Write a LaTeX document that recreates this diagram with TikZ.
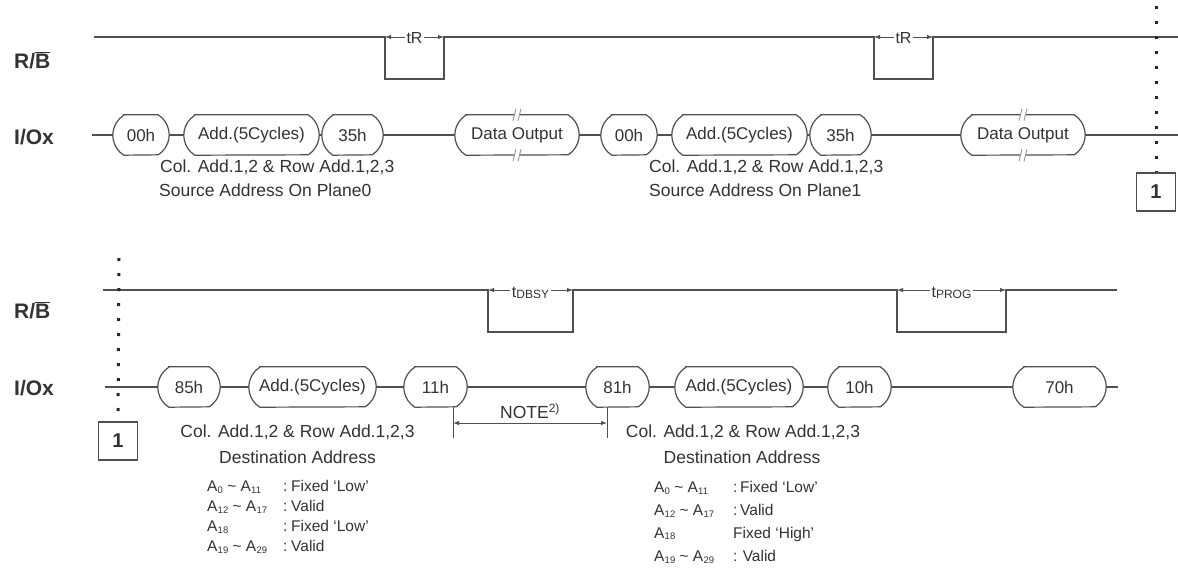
\documentclass[tikz,border=0pt]{standalone}
\usepackage{fontspec}
\setmainfont{Liberation Sans}
\usetikzlibrary{arrows.meta,calc}
\definecolor{lc}{HTML}{505050}
\definecolor{tc}{HTML}{333333}
\newcommand\As[1]{A\kern0.2pt\raisebox{-1.5pt}{\fontsize{9.5}{10}\selectfont #1}}
\newcommand\tsub[2]{#1\raisebox{-0.5pt}{\fontsize{12}{12}\selectfont #2}}
\newcommand\pillo[1]{\draw[ln] ($(#1.north west)+(11,0)$) -- ($(#1.north east)+(-11,0)$)
   arc[start angle=-57.6,end angle=57.6,radius=23.7] -- ($(#1.south west)+(11,0)$)
   arc[start angle=122.4,end angle=237.6,radius=23.7] -- cycle;}
\begin{document}
\begin{tikzpicture}[x=1pt,y=-1pt,
  ln/.style={draw=lc, line width=1.2pt},
  pill/.style={rectangle, draw=none, minimum height=40pt, inner sep=0pt,
     font=\fontsize{17}{20}\selectfont, text=tc},
  lbl/.style={anchor=west, inner sep=0pt, font=\bfseries\fontsize{21}{24}\selectfont, text=tc},
  txt/.style={inner sep=0pt, font=\fontsize{17.5}{21}\selectfont, text=tc},
  lst/.style={anchor=west, inner sep=0pt, font=\fontsize{15.5}{18}\selectfont, text=tc},
  numbox/.style={draw=lc, line width=1.2pt, minimum width=39pt, minimum height=38pt, inner sep=0pt,
     font=\bfseries\fontsize{20}{22}\selectfont, text=tc},
  dotline/.style={line width=3pt, dash pattern=on 3pt off 12pt, draw=black!85},
  dim/.style={draw=lc, line width=1pt, {Latex[length=6pt,width=4.5pt]}-{Latex[length=6pt,width=4.5pt]}},
  tlab/.style={fill=white, inner sep=1.5pt, font=\fontsize{16}{18}\selectfont, text=tc},
  brk/.pic={\fill[white] (-2.5,-5) rectangle (2.5,5);
            \draw[lc!60, line width=0.9pt] (-4,6) -- (-1,-6) (1,6) -- (4,-6);}
]
\fill[white] (0,0) rectangle (1178,568);
\useasboundingbox (0,0) rectangle (1178,568);

% ---------------- top row ----------------
\node[lbl] (rb1) at (14,60) {R/$\overline{\mbox{B}}$};
\node[lbl] (io1) at (14,137) {I/Ox};

\coordinate (rbs1) at (94,37);
\coordinate (tra) at (385,37);
\coordinate (trb) at (444,37);
\coordinate (trc) at (874,37);
\coordinate (trd) at (933,37);
\coordinate (rbe1) at (1178,37);
\draw[ln] (rbs1) -- (tra) -- ++(0,42) -| (trb) -- (trc) -- ++(0,42) -| (trd) -- (rbe1);
\draw[dim] (tra) -- node[tlab, yshift=-1pt] (tr1) {tR} (trb);
\draw[dim] (trc) -- node[tlab, yshift=-1pt] (tr2) {tR} (trd);

\coordinate (ios1) at (92,135);
\coordinate (ioe1) at (1178,135);
\node[pill, minimum width=56pt] (a1) at (141,135) {00h};
\node[pill, minimum width=135pt] (a2) at (251.5,135) {Add.(5Cycles)};
\node[pill, minimum width=61pt] (a3) at (352.5,135) {35h};
\node[pill, minimum width=124pt] (a4) at (517,135) {Data Output};
\node[pill, minimum width=56pt] (b1) at (629,135) {00h};
\node[pill, minimum width=135pt] (b2) at (739.5,135) {Add.(5Cycles)};
\node[pill, minimum width=61pt] (b3) at (840.5,135) {35h};
\node[pill, minimum width=124pt] (b4) at (1023,135) {Data Output};
\foreach \p in {a1,a2,a3,a4,b1,b2,b3,b4} {\pillo{\p}}
\draw[ln] (ios1) -- (a1.west) (a1.east) -- (a2.west) (a2.east) -- (a3.west) (a3.east) -- (a4.west)
          (a4.east) -- (b1.west) (b1.east) -- (b2.west) (b2.east) -- (b3.west) (b3.east) -- (b4.west)
          (b4.east) -- (ioe1);
\path (a4.north) pic {brk} (a4.south) pic {brk} (b4.north) pic {brk} (b4.south) pic {brk};

\node[txt, anchor=west] (c1) at (160,167) {Col. Add.1,2 \& Row Add.1,2,3};
\node[txt, anchor=west] (s1) at (159,190) {Source Address On Plane0};
\node[txt, anchor=west] (c2) at (649,167) {Col. Add.1,2 \& Row Add.1,2,3};
\node[txt, anchor=west] (s2) at (649,190) {Source Address On Plane1};

\node[numbox] (k1) at (1156,192) {1};
\coordinate (dt1) at (1156,6);
\draw[dotline] (dt1) -- (k1.north);

% ---------------- bottom row ----------------
\node[lbl] (rb2) at (14,310) {R/$\overline{\mbox{B}}$};
\node[lbl] (io2) at (14,388) {I/Ox};

\coordinate (rbs2) at (103,290);
\coordinate (tda) at (488,290);
\coordinate (tdb) at (573,290);
\coordinate (tpa) at (897,290);
\coordinate (tpb) at (1006,290);
\coordinate (rbe2) at (1117,290);
\draw[ln] (rbs2) -- (tda) -- ++(0,42) -| (tdb) -- (tpa) -- ++(0,42) -| (tpb) -- (rbe2);
\draw[dim] (tda) -- node[tlab, yshift=-3pt] (td) {\tsub{t}{DBSY}} (tdb);
\draw[dim] (tpa) -- node[tlab, yshift=-3pt] (tp) {\tsub{t}{PROG}} (tpb);

\coordinate (ios2) at (105,387);
\coordinate (ioe2) at (1118,387);
\node[pill, minimum width=62pt] (d1) at (189,387) {85h};
\node[pill, minimum width=127pt] (d2) at (312.5,387) {Add.(5Cycles)};
\node[pill, minimum width=63pt] (d3) at (435.5,387) {11h};
\node[pill, minimum width=63pt] (e1) at (617.5,387) {81h};
\node[pill, minimum width=128pt] (e2) at (739,387) {Add.(5Cycles)};
\node[pill, minimum width=63pt] (e3) at (859.5,387) {10h};
\node[pill, minimum width=93pt] (e4) at (1059.5,387) {70h};
\foreach \p in {d1,d2,d3,e1,e2,e3,e4} {\pillo{\p}}
\draw[ln] (ios2) -- (d1.west) (d1.east) -- (d2.west) (d2.east) -- (d3.west) (d3.east) -- (e1.west)
          (e1.east) -- (e2.west) (e2.east) -- (e3.west) (e3.east) -- (e4.west) (e4.east) -- (ioe2);

% NOTE 2)
\coordinate (nt1) at (453,407);
\coordinate (nb1) at (453,438);
\coordinate (nt2) at (607,407);
\coordinate (nb2) at (607,438);
\coordinate (na1) at (453,423);
\coordinate (na2) at (607,423);
\draw[ln, line width=1pt] (nt1) -- (nb1) (nt2) -- (nb2);
\draw[dim] (na1) -- (na2);
\node[txt, anchor=base west] (note) at (500,418) {NOTE\raisebox{6pt}{\fontsize{12}{12}\selectfont 2)}};

\node[txt] (c3) at (297.5,432) {Col. Add.1,2 \& Row Add.1,2,3};
\node[txt] (s3) at (297.5,457) {Destination Address};
\node[txt] (c4) at (743,432) {Col. Add.1,2 \& Row Add.1,2,3};
\node[txt] (s4) at (742,457) {Destination Address};

\node[lst] (l1) at (207,487) {\makebox[76pt][l]{\As{0} \textasciitilde\ \As{11}}\makebox[8pt][l]{:}Fixed `Low'};
\node[lst] (l2) at (207,507) {\makebox[76pt][l]{\As{12} \textasciitilde\ \As{17}}\makebox[8pt][l]{:}Valid};
\node[lst] (l3) at (207,527) {\makebox[76pt][l]{\As{18}}\makebox[8pt][l]{:}Fixed `Low'};
\node[lst] (l4) at (207,547) {\makebox[76pt][l]{\As{19} \textasciitilde\ \As{29}}\makebox[8pt][l]{:}Valid};

\node[lst] (r1) at (654,488) {\makebox[79pt][l]{\As{0} \textasciitilde\ \As{11}}\makebox[7pt][l]{:}Fixed `Low'};
\node[lst] (r2) at (654,511) {\makebox[79pt][l]{\As{12} \textasciitilde\ \As{17}}\makebox[7pt][l]{:}Valid};
\node[lst] (r3) at (654,534) {\makebox[79pt][l]{\As{18}}Fixed `High'};
\node[lst] (r4) at (654,557) {\makebox[79pt][l]{\As{19} \textasciitilde\ \As{29}}\makebox[7pt][l]{:}\,Valid};

\node[numbox] (k2) at (118,441) {1};
\coordinate (dt2) at (119,258);
\draw[dotline] (dt2) -- (k2.north);
\end{tikzpicture}
\end{document}
